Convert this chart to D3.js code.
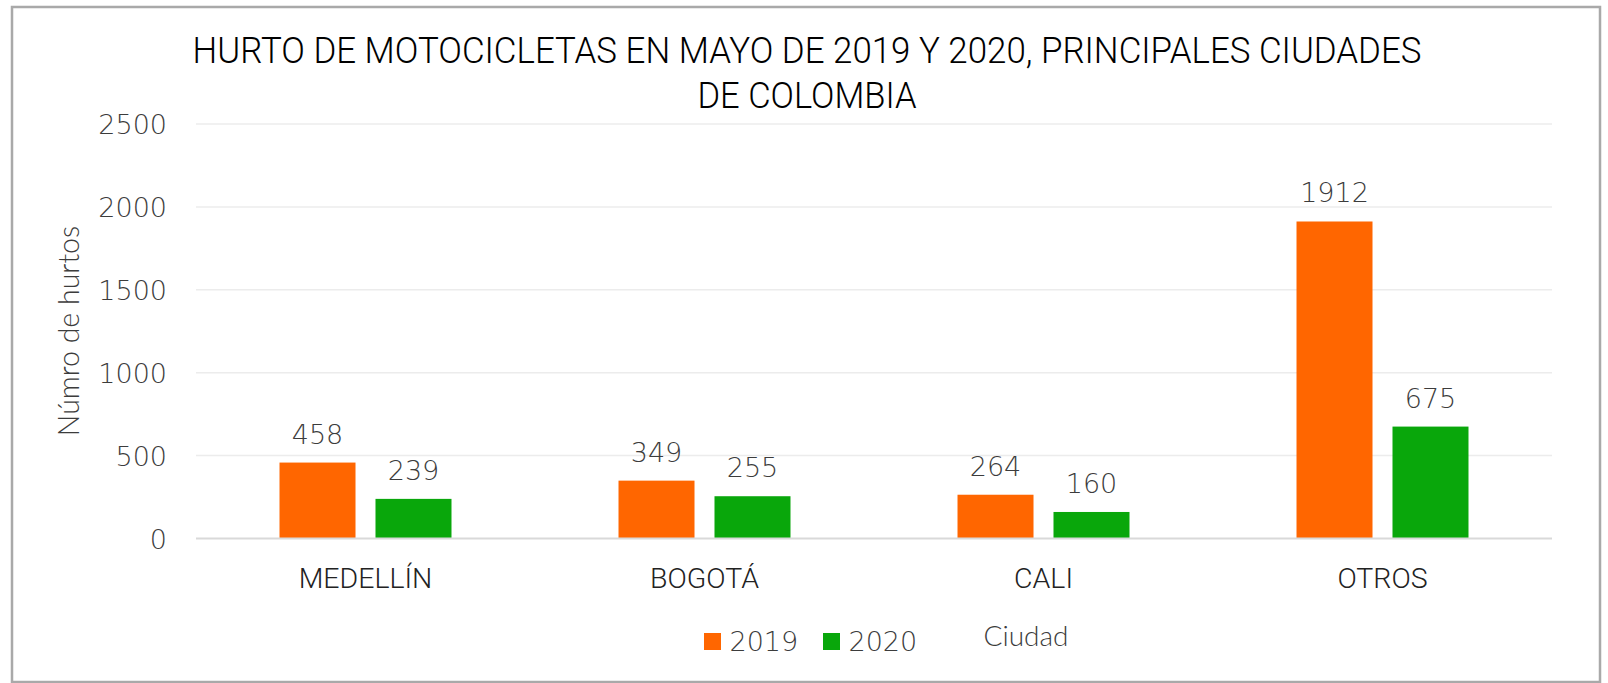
<!DOCTYPE html>
<html>
<head>
<meta charset="utf-8">
<script src="https://cdn.jsdelivr.net/npm/d3@7"></script>
<style>
  body { margin: 0; background: #fff; }
  svg { display: block; }
</style>
</head>
<body>
<svg width="1608" height="683"></svg>
<script>
var svg = d3.select('svg')

var width = +svg.attr('width')
var height = +svg.attr('height')

// data
var cities = ['MEDELLÍN', 'BOGOTÁ', 'CALI', 'OTROS']
var series = ['2019', '2020']
var values2019 = [458, 349, 264, 1912]
var values2020 = [239, 255, 160, 675]
var yTicks = [0, 500, 1000, 1500, 2000, 2500]
var titleLines = ['HURTO DE MOTOCICLETAS EN MAYO DE 2019 Y 2020, PRINCIPALES CIUDADES', 'DE COLOMBIA']
var titleWidths = [1229, 219]

var colors = {'2019': '#FF6600', '2020': '#09A70B'}

var catFont = 'Roboto, "Liberation Sans Narrow", sans-serif'
var numFont = '"DejaVu Sans", sans-serif'
var labelFont = 'Lato, "Open Sans", sans-serif'
var textGray = '#3c3c3c'

var rows = cities.map(function(c, i) {
	return {city: c, '2019': values2019[i], '2020': values2020[i]}
})

var plotLeft = 196, plotRight = 1552, plotTop = 124, plotBottom = 538.5

var x0 = d3.scaleBand().domain(cities).range([plotLeft, plotRight]).padding(0)
var x1 = d3.scaleBand().domain(series).range([0, x0.bandwidth()])
	.paddingInner(0.2083).paddingOuter(0.87)
var y = d3.scaleLinear().domain([0, 2500]).range([plotBottom, plotTop])

//Outer frame
svg.append('rect')
	.attr('x', 12).attr('y', 7)
	.attr('width', 1588).attr('height', 675)
	.attr('fill', 'white')
	.attr('stroke', '#a9a9a9')
	.attr('stroke-width', 2.5)

//Title
svg.selectAll('text.title')
	.data(titleLines)
	.enter()
	.append('text')
	.attr('class', 'title')
	.attr('x', 807)
	.attr('y', function(d, i) { return 62.5 + i * 45 })
	.attr('text-anchor', 'middle')
	.attr('font-family', catFont)
	.attr('font-weight', 300)
	.attr('font-size', 37)
	.attr('fill', '#000')
	.attr('textLength', function(d, i) { return titleWidths[i] })
	.attr('lengthAdjust', 'spacingAndGlyphs')
	.text(function(d) { return d })

//Gridlines
svg.append('g')
	.selectAll('line')
	.data(yTicks.slice(1))
	.enter()
	.append('line')
	.attr('x1', plotLeft).attr('x2', plotRight)
	.attr('y1', function(d) { return y(d) })
	.attr('y2', function(d) { return y(d) })
	.attr('stroke', '#ececec')
	.attr('stroke-width', 1.5)

//Y axis (labels only)
var yAxis = svg.append('g')
	.attr('transform', 'translate(' + plotLeft + ',0)')
	.call(d3.axisLeft(y).tickValues(yTicks).tickFormat(d3.format('d')).tickSize(0).tickPadding(29))
yAxis.select('.domain').remove()
yAxis.selectAll('text')
	.attr('font-family', numFont)
	.attr('font-weight', 200)
	.attr('font-size', 27)
	.attr('fill', textGray)
	.attr('dy', '0.36em')

//Bars
var groups = svg.append('g')
	.selectAll('g')
	.data(rows)
	.enter()
	.append('g')
	.attr('transform', function(d) { return 'translate(' + x0(d.city) + ',0)' })

groups.selectAll('rect')
	.data(function(d) { return series.map(function(s) { return {key: s, value: d[s]} }) })
	.enter()
	.append('rect')
	.attr('x', function(d) { return x1(d.key) })
	.attr('y', function(d) { return y(d.value) })
	.attr('width', x1.bandwidth())
	.attr('height', function(d) { return plotBottom - y(d.value) })
	.attr('fill', function(d) { return colors[d.key] })

groups.selectAll('text')
	.data(function(d) { return series.map(function(s) { return {key: s, value: d[s]} }) })
	.enter()
	.append('text')
	.attr('x', function(d) { return x1(d.key) + x1.bandwidth() / 2 })
	.attr('y', function(d) { return y(d.value) - 19 })
	.attr('text-anchor', 'middle')
	.attr('font-family', numFont)
	.attr('font-weight', 200)
	.attr('font-size', 27)
	.attr('fill', textGray)
	.text(function(d) { return d.value })

//Baseline
svg.append('line')
	.attr('x1', plotLeft).attr('x2', plotRight)
	.attr('y1', plotBottom).attr('y2', plotBottom)
	.attr('stroke', '#d9d9d9')
	.attr('stroke-width', 2)

//X axis (category labels)
var xAxis = svg.append('g')
	.attr('transform', 'translate(0,' + plotBottom + ')')
	.call(d3.axisBottom(x0).tickSize(0).tickPadding(0))
xAxis.select('.domain').remove()
xAxis.selectAll('text')
	.attr('font-family', catFont)
	.attr('font-weight', 300)
	.attr('font-size', 28.5)
	.attr('fill', '#222')
	.attr('y', 49)
	.attr('dy', 0)

//Axis titles
svg.append('text')
	.attr('transform', 'translate(79,331) rotate(-90)')
	.attr('text-anchor', 'middle')
	.attr('font-family', labelFont)
	.attr('font-weight', 300)
	.attr('font-size', 28.5)
	.attr('fill', textGray)
	.text('Númro de hurtos')

svg.append('text')
	.attr('x', 1026).attr('y', 645.5)
	.attr('text-anchor', 'middle')
	.attr('font-family', labelFont)
	.attr('font-weight', 300)
	.attr('font-size', 28)
	.attr('fill', textGray)
	.text('Ciudad')

//Legend
var legendX = [704, 823]
var legend = svg.append('g')
	.selectAll('g')
	.data(series)
	.enter()
	.append('g')
	.attr('transform', function(d, i) { return 'translate(' + legendX[i] + ',633)' })
legend.append('rect')
	.attr('width', 17).attr('height', 17)
	.attr('fill', function(d) { return colors[d] })
legend.append('text')
	.attr('x', 25.5).attr('y', 17.5)
	.attr('font-family', numFont)
	.attr('font-weight', 200)
	.attr('font-size', 27)
	.attr('fill', textGray)
	.text(function(d) { return d })
</script>
</body>
</html>
